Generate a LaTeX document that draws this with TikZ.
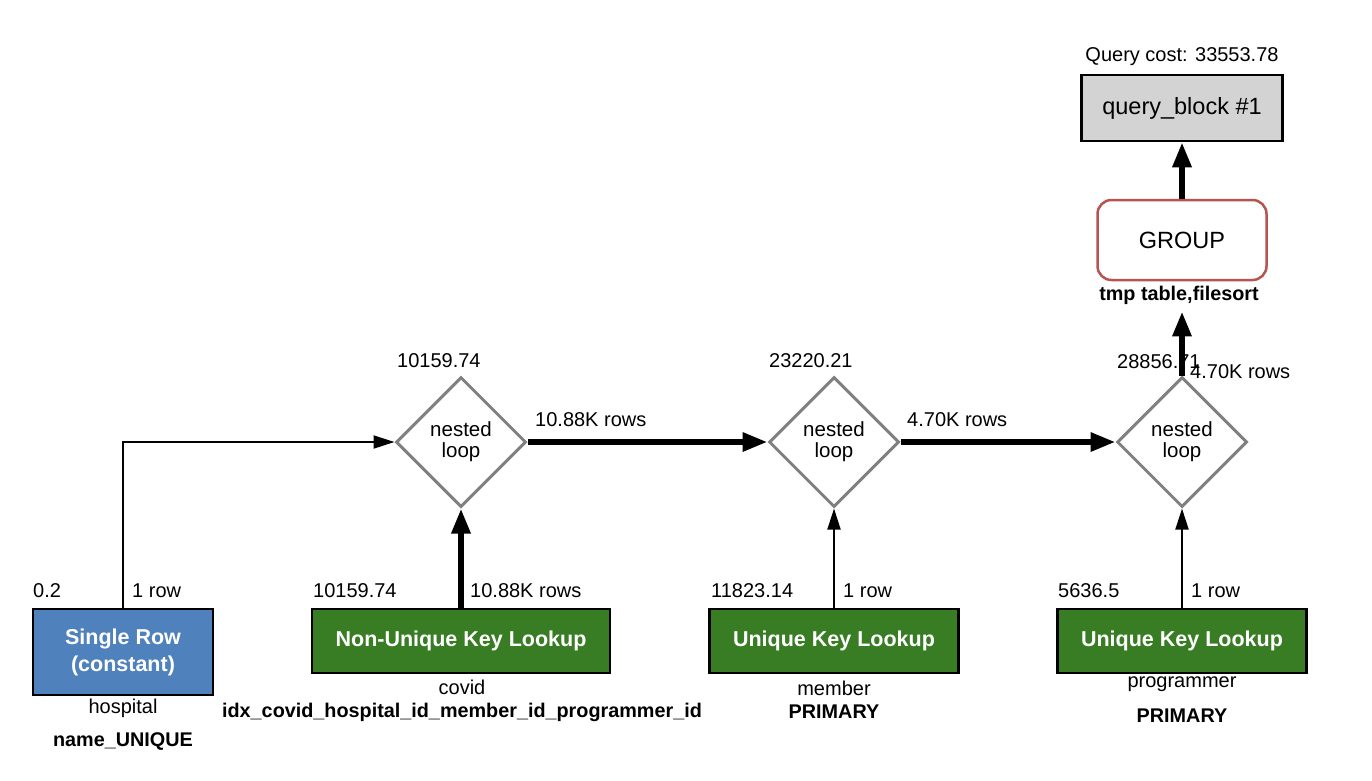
\documentclass[tikz,border=0pt]{standalone}
\usepackage{fontspec}
\setmainfont{Liberation Sans}
\usetikzlibrary{shapes.geometric,arrows.meta}
\definecolor{opgreen}{RGB}{56,124,36}
\definecolor{opblue}{RGB}{79,129,189}
\definecolor{grpred}{RGB}{184,84,80}
\definecolor{qbgray}{RGB}{211,211,211}
\definecolor{loopgray}{RGB}{128,128,128}
\begin{document}
\begin{tikzpicture}[x=1pt,y=-1pt,
  lbl/.style={font=\fontsize{20}{22}\selectfont, inner sep=0pt},
  sub/.style={font=\fontsize{19.8}{22}\selectfont\bfseries, inner sep=0pt},
  access/.style={draw=black, line width=2.5pt, text=white,
    font=\fontsize{21.5}{27}\selectfont\bfseries, align=center, inner sep=0pt},
  loopnode/.style={diamond, draw=loopgray, line width=3pt, fill=white,
    minimum width=130pt, minimum height=130pt, inner sep=0pt, align=center,
    font=\fontsize{20.5}{21}\selectfont},
  thinflow/.style={line width=2pt, -{Triangle[length=21pt,width=13pt]}},
  thickflow/.style={line width=6pt, -{Triangle[length=25pt,width=18pt]}},
]
\useasboundingbox (0,0) rectangle (1372,780);

% query block and grouping
\node[lbl] (qcost) at (1182,57) {Query cost: 33553.78};
\node[draw=black, line width=2.5pt, fill=qbgray, minimum width=201pt, minimum height=66pt,
  inner sep=0pt, font=\fontsize{23.5}{26}\selectfont] (qb) at (1182,108) {query\_block \#1};
\node[draw=grpred, line width=2.5pt, rounded corners=14pt, fill=white, minimum width=169pt,
  minimum height=80pt, inner sep=0pt, font=\fontsize{23.5}{26}\selectfont] (grp) at (1182,240) {GROUP};
\node[sub] (grpinfo) at (1179,295) {tmp table,filesort};

% nested loops
\node[loopnode] (nl1) at (461,442) {nested\\loop};
\node[loopnode] (nl2) at (834,442) {nested\\loop};
\node[loopnode] (nl3) at (1182,442) {nested\\loop};
\node[lbl, anchor=west] (c1) at (397,361) {10159.74};
\node[lbl, anchor=west] (c2) at (769,361) {23220.21};
\node[lbl, anchor=west] (c3) at (1117,362) {28856.71};

% table access operations
\node[access, fill=opblue, minimum width=180pt, minimum height=86pt] (hosp) at (123,652) {Single Row\\(constant)};
\node[access, fill=opgreen, minimum width=298pt, minimum height=64pt] (covid) at (461,641) {Non-Unique Key Lookup};
\node[access, fill=opgreen, minimum width=249pt, minimum height=64pt] (member) at (834,641) {Unique Key Lookup};
\node[access, fill=opgreen, minimum width=249pt, minimum height=64pt] (prog) at (1182,641) {Unique Key Lookup};

\node[lbl, anchor=west] (hc) at (33,591) {0.2};
\node[lbl, anchor=west] (hr) at (132,591) {1 row};
\node[lbl, anchor=west] (cc) at (313,591) {10159.74};
\node[lbl, anchor=west] (cr) at (470,591) {10.88K rows};
\node[lbl, anchor=west] (mc) at (711,591) {11823.14};
\node[lbl, anchor=west] (mr) at (843,591) {1 row};
\node[lbl, anchor=west] (pc) at (1058,591) {5636.5};
\node[lbl, anchor=west] (pr) at (1191,591) {1 row};

\node[lbl] (ht) at (123,708) {hospital};
\node[sub] (hk) at (123,742) {name\_UNIQUE};
\node[lbl] (ct) at (462,687) {covid};
\node[sub] (ck) at (462,712) {idx\_covid\_hospital\_id\_member\_id\_programmer\_id};
\node[lbl] (mt) at (834,688) {member};
\node[sub] (mk) at (834,712) {PRIMARY};
\node[lbl] (pt) at (1182,684) {programmer};
\node[sub] (pk) at (1182,716) {PRIMARY};

% row flow
\draw[thinflow] (hosp.north) |- (nl1.west);
\draw[thickflow] (covid.north) -- (nl1.south);
\draw[thickflow] (nl1.east) -- (nl2.west);
\draw[thinflow] (member.north) -- (nl2.south);
\draw[thickflow] (nl2.east) -- (nl3.west);
\draw[thinflow] (prog.north) -- (nl3.south);
\draw[thickflow, shorten >=7pt] (nl3.north) -- (nl3.north |- grpinfo.south);
\draw[thickflow] (grp.north) -- (qb.south);

\node[lbl, anchor=west] (r1) at (535,420) {10.88K rows};
\node[lbl, anchor=west] (r2) at (907,420) {4.70K rows};
\node[lbl, anchor=west] (r3) at (1190,372) {4.70K rows};
\end{tikzpicture}
\end{document}
